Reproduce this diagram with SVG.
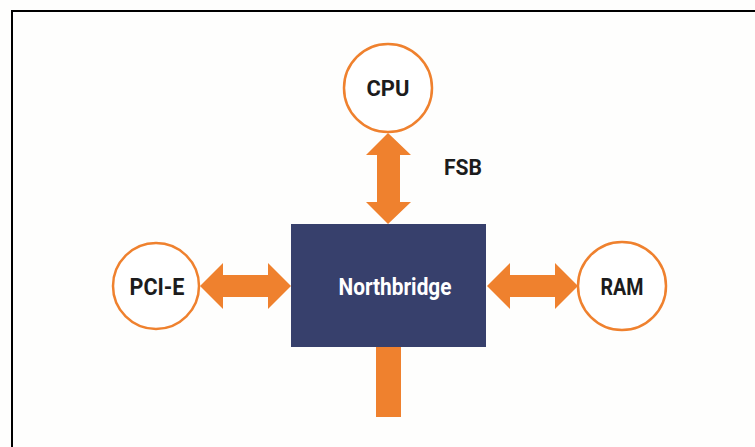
<svg xmlns="http://www.w3.org/2000/svg" width="755" height="447" viewBox="0 0 755 447">
<style>
.ring{fill:#fff;stroke:#ef812e;stroke-width:2.5}
.arr{fill:#ef812e}
.lbl{font-family:Roboto,"Liberation Sans",sans-serif;font-weight:bold;fill:#1c1c1c;text-anchor:middle}
.nb{font-family:Roboto,"Liberation Sans",sans-serif;font-weight:bold;fill:#fff;text-anchor:middle}
</style>
<rect x="0" y="0" width="755" height="447" fill="#fefefd"/>
<rect x="12" y="11" width="760" height="460" fill="none" stroke="#000" stroke-width="2"/>
<g id="connectors">
<polygon class="arr" points="388,133 411,155 400,155 400,202 411,202 388,224 366,202 377,202 377,155 366,155"/>
<polygon class="arr" points="200,286 223,263 223,275 268,275 268,263 291,286 268,309 268,297 223,297 223,309"/>
<polygon class="arr" points="487,286 510,263 510,275 555,275 555,263 578,286 555,309 555,297 510,297 510,309"/>
<rect class="arr" x="376" y="347" width="25" height="70"/>
</g>
<g id="cpu">
<circle class="ring" cx="388" cy="88" r="44"/>
<text class="lbl" x="388" y="96" font-size="22" textLength="43" lengthAdjust="spacingAndGlyphs">CPU</text>
</g>
<g id="fsb">
<text class="lbl" x="463" y="175" font-size="22" textLength="38" lengthAdjust="spacingAndGlyphs">FSB</text>
</g>
<g id="pcie">
<circle class="ring" cx="156" cy="286" r="43"/>
<text class="lbl" x="157" y="295" font-size="23" textLength="55" lengthAdjust="spacingAndGlyphs">PCI-E</text>
</g>
<g id="ram">
<circle class="ring" cx="622" cy="286" r="44"/>
<text class="lbl" x="622" y="295" font-size="23" textLength="43" lengthAdjust="spacingAndGlyphs">RAM</text>
</g>
<g id="northbridge">
<rect x="291" y="224" width="195" height="123" fill="#37406c"/>
<text class="nb" x="395" y="295" font-size="24" textLength="113" lengthAdjust="spacingAndGlyphs">Northbridge</text>
</g>
</svg>
